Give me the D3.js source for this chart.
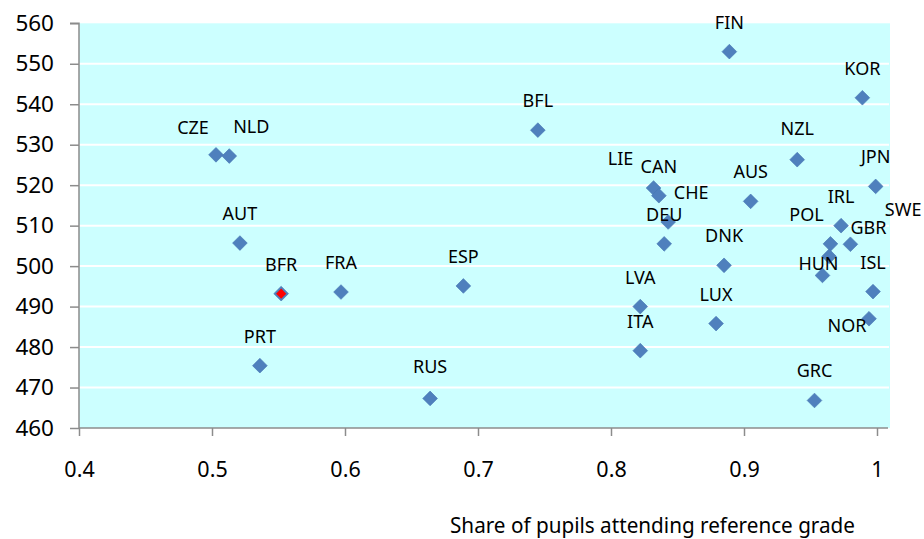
<!DOCTYPE html>
<html>
<head>
<meta charset="utf-8">
<script src="https://cdn.jsdelivr.net/npm/d3@7"></script>
<style>
  html, body { margin: 0; padding: 0; background: #ffffff; }
  svg { display: block; }
</style>
</head>
<body>
<svg id="chart" width="924" height="539"></svg>
<script>
// ---- data ----
const countries = ["CZE","NLD","AUT","BFR","FRA","ESP","PRT","RUS","BFL","FIN","KOR","NZL","GRC",
                   "LIE","CAN","CHE","DEU","AUS","JPN","IRL","POL","GBR","SWE","HUN","ISL","NOR",
                   "DNK","LVA","LUX","ITA"];
const share = [0.503,0.513,0.521,0.552,0.597,0.689,0.536,0.664,0.745,0.889,0.989,0.940,0.953,
               0.832,0.836,0.843,0.840,0.905,0.999,0.973,0.965,0.980,0.964,0.959,0.997,0.994,
               0.885,0.822,0.879,0.822];
const score = [527.5,527.2,505.7,493.2,493.6,495.1,475.4,467.3,533.6,553.0,541.6,526.3,466.8,
               519.3,517.4,510.9,505.5,516.0,519.7,510.0,505.5,505.4,502.4,497.7,493.7,487.0,
               500.2,490.0,485.8,479.1];
const highlighted = ["BFR"];
const xTicks = [0.4,0.5,0.6,0.7,0.8,0.9,1];
const yTicks = [460,470,480,490,500,510,520,530,540,550,560];
const xTitle = "Share of pupils attending reference grade";

// ---- label placement (layout, px offsets from marker) ----
const labelOffset = {
  CZE: [-23,-28], NLD: [22,-30], LIE: [-33,-30], CHE: [23,-30], POL: [-24,-30],
  GBR: [18,-17], SWE: [74,-47], HUN: [-4,-12], NOR: [-22,6], RUS: [0,-32], NZL: [0,-32]
};

// ---- layout ----
const pLeft = 79, pRight = 890, pTop = 23.3, pBottom = 428;
const x = d3.scaleLinear().domain([0.4, 1]).range([pLeft, 877]);
const y = d3.scaleLinear().domain([460, 560]).range([pBottom, pTop]);

const svg = d3.select("#chart");
const font = "'Noto Sans', 'DejaVu Sans', sans-serif";

// plot background
svg.append("rect").attr("x", pLeft).attr("y", pTop)
  .attr("width", pRight - pLeft).attr("height", pBottom - pTop)
  .attr("fill", "#ccffff");

// gridlines
svg.append("g").selectAll("line").data(yTicks.filter(t => t > 460 && t < 560)).join("line")
  .attr("x1", pLeft).attr("x2", pRight - 1)
  .attr("y1", d => y(d)).attr("y2", d => y(d))
  .attr("stroke", "#ffffff").attr("stroke-width", 2);

// y axis
const yAxis = d3.axisLeft(y).tickValues(yTicks).tickSize(9).tickPadding(16).tickFormat(d3.format("d"));
const gy = svg.append("g").attr("transform", `translate(${pLeft},0)`).call(yAxis);
gy.select(".domain").attr("stroke", "#8c8c8c").attr("stroke-width", 1.5).attr("d", `M-9,${pTop}H0V${pBottom}`);
gy.selectAll(".tick line").attr("stroke", "#8c8c8c").attr("stroke-width", 1.5);
gy.selectAll(".tick text").attr("font-family", font).attr("font-size", 22.5).attr("fill", "#000");

// x axis
const xAxis = d3.axisBottom(x).tickValues(xTicks).tickSize(8).tickPadding(26)
  .tickFormat(d => d === 1 ? "1" : d3.format(".1f")(d));
const gx = svg.append("g").attr("transform", `translate(0,${pBottom})`).call(xAxis);
gx.select(".domain").attr("stroke", "#8c8c8c").attr("stroke-width", 1.5).attr("d", `M${pLeft},0H${pRight - 2}`);
gx.selectAll(".tick line").attr("stroke", "#8c8c8c").attr("stroke-width", 1.5);
gx.selectAll(".tick text").attr("font-family", font).attr("font-size", 21.5).attr("fill", "#000");

// x title
svg.append("text").attr("x", 450).attr("y", 533)
  .attr("font-family", font).attr("font-size", 21).attr("fill", "#000")
  .attr("textLength", 405).attr("lengthAdjust", "spacingAndGlyphs")
  .text(xTitle);

// points
const data = countries.map((c, i) => ({ c, sx: share[i], sy: score[i] }));
const diamond = d3.symbol().type(d3.symbolSquare).size(108);
const inner = d3.symbol().type(d3.symbolSquare).size(52);

const pts = svg.append("g");
pts.selectAll("path.pt").data(data).join("path").attr("class", "pt")
  .attr("d", diamond)
  .attr("transform", d => `translate(${x(d.sx)},${y(d.sy)}) rotate(45)`)
  .attr("fill", "#4f80bd").attr("stroke", "#4576b3").attr("stroke-width", 0.6);
pts.selectAll("path.hl").data(data.filter(d => highlighted.includes(d.c))).join("path").attr("class", "hl")
  .attr("d", inner)
  .attr("transform", d => `translate(${x(d.sx)},${y(d.sy)}) rotate(45)`)
  .attr("fill", "#ff0000");

// labels
svg.append("g").selectAll("text").data(data).join("text")
  .attr("x", d => x(d.sx) + (labelOffset[d.c] || [0,-30])[0])
  .attr("y", d => y(d.sy) + (labelOffset[d.c] || [0,-30])[1])
  .attr("text-anchor", "middle").attr("dominant-baseline", "central")
  .attr("font-family", font).attr("font-size", 18).attr("fill", "#000")
  .text(d => d.c);
</script>
</body>
</html>
